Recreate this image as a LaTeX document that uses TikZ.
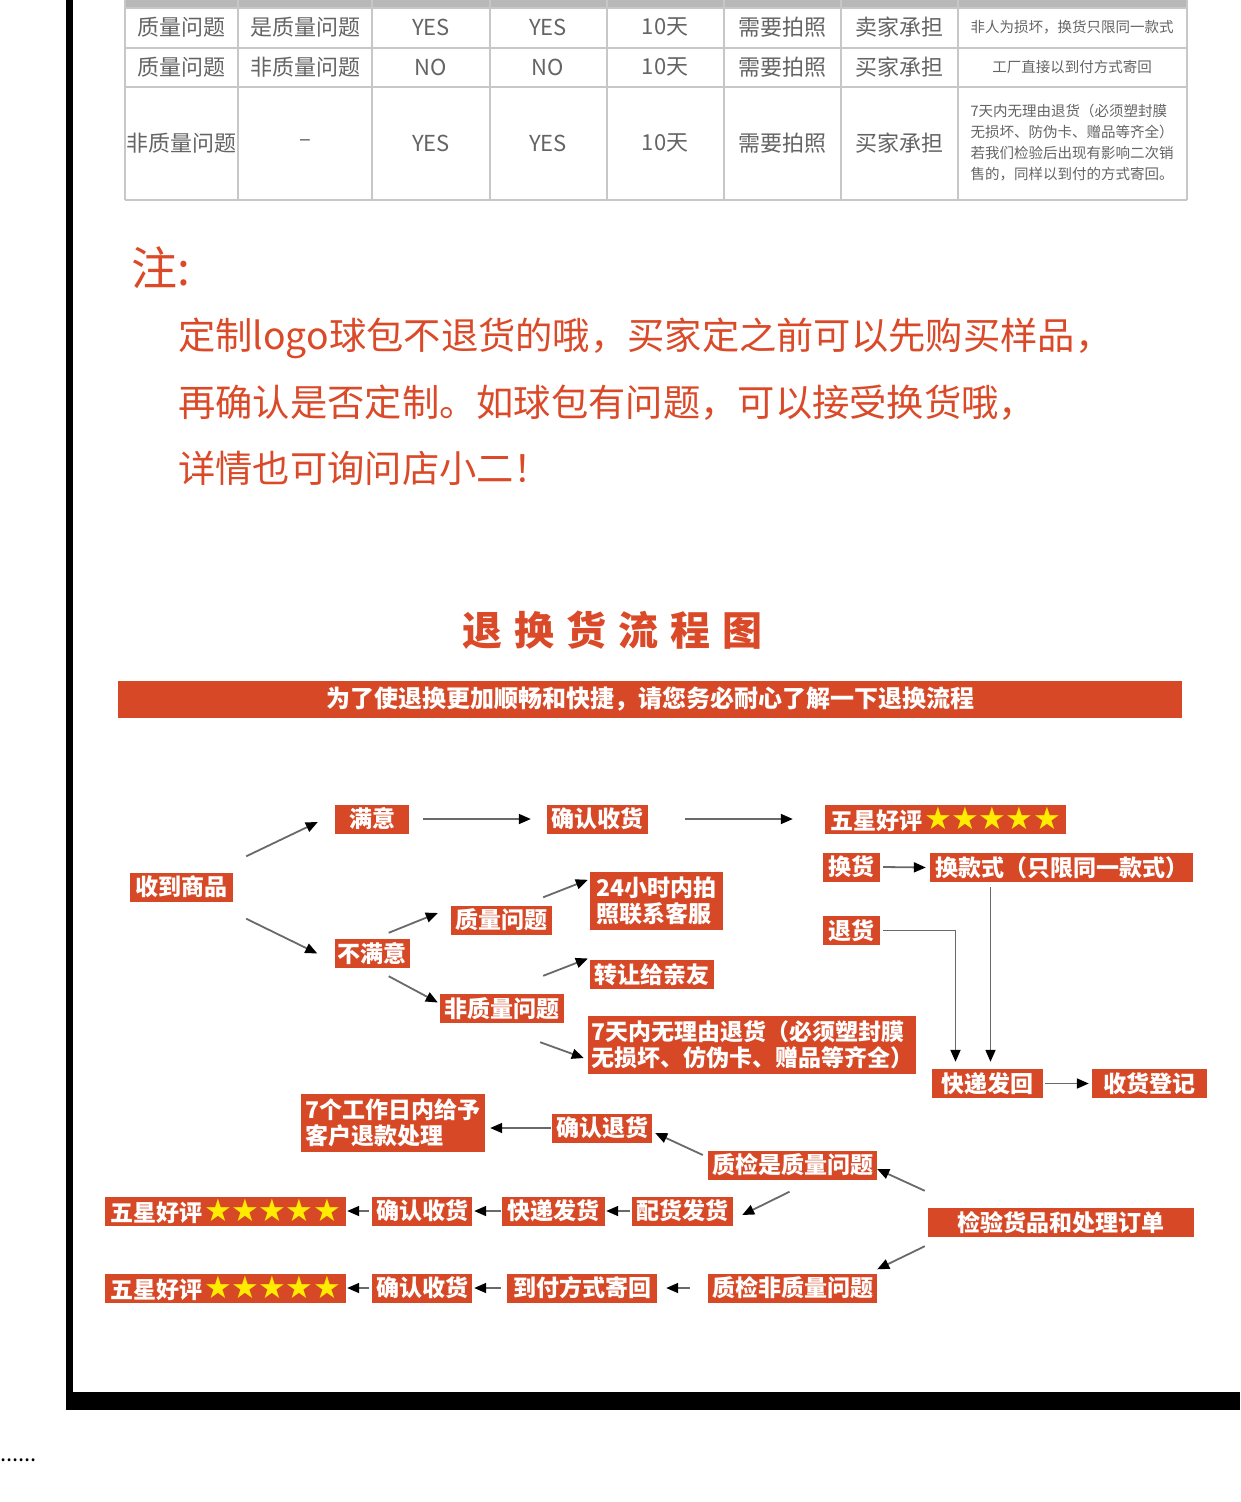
\documentclass[tikz,border=0pt]{standalone}
\usepackage{fontspec}
\setmainfont{Noto Sans CJK SC}
\newfontfamily\symfont{DejaVu Sans}
\usetikzlibrary{arrows.meta,calc}

\definecolor{boxred}{RGB}{214,72,38}
\definecolor{notered}{RGB}{219,74,40}
\definecolor{linegray}{RGB}{105,105,105}
\definecolor{tablegray}{RGB}{100,100,100}
\definecolor{staryellow}{RGB}{255,236,0}
\newcommand{\fivestars}{\hspace{2pt}{\symfont\fontsize{31}{31}\selectfont\color{staryellow}★\kern-0.5pt★\kern-0.5pt★\kern-0.5pt★\kern-0.5pt★}}

\begin{document}
\begin{tikzpicture}[x=1pt,y=-1pt,
  flowbox/.style={fill=boxred,text=white,font=\bfseries\fontsize{23}{26}\selectfont,inner xsep=3pt,inner ysep=1pt,minimum height=29pt},
  twoline/.style={flowbox,align=left,minimum height=58pt},
  arrow/.style={draw=linegray,line width=1.8pt,-{Triangle[length=12pt,width=10pt,color=black]}},
  cell/.style={text=tablegray,font=\fontsize{22}{24}\selectfont},
  smallcell/.style={text=tablegray,font=\fontsize{14.5}{21}\selectfont,align=left},
  tableline/.style={draw=black!22,line width=1.5pt},
  notetext/.style={text=notered,font=\fontsize{37.3}{40}\selectfont,anchor=west,inner sep=0pt}
]
\useasboundingbox (0,0) rectangle (1240,1502);
\fill[white] (0,0) rectangle (1240,1502);

% frame of the page
\fill[black] (66,0) rectangle (73,1410);
\fill[black] (66,1392) rectangle (1240,1410);
\node[anchor=west,inner sep=0pt,font=\fontsize{22}{22}\selectfont] (dots) at (0,1460) {......};

% table (top rows)
\fill[black!28] (125,0) rectangle (1187,8);
\foreach \x in {125,238,372,490,607,724,841,958,1187}
  \draw[tableline] (\x,0) -- (\x,200);
\foreach \y in {8,48,87,200}
  \draw[tableline] (125,\y) -- (1187,\y);
\foreach \x/\t in {181/质量问题,305/是质量问题,431/YES,548/YES,665/10天,782/需要拍照,899/卖家承担}
  \node[cell] (ra\x) at (\x,27) {\t};
\foreach \x/\t in {181/质量问题,305/非质量问题,431/NO,548/NO,665/10天,782/需要拍照,899/买家承担}
  \node[cell] (rb\x) at (\x,67) {\t};
\foreach \x/\t in {181/非质量问题,305/–,431/YES,548/YES,665/10天,782/需要拍照,899/买家承担}
  \node[cell] (rc\x) at (\x,143) {\t};
\node[smallcell] (ranote) at (1072,27) {非人为损坏，换货只限同一款式};
\node[smallcell] (rbnote) at (1072,67) {工厂直接以到付方式寄回};
\node[smallcell] (rcnote) at (1072,143) {7天内无理由退货（必须塑封膜\\无损坏、防伪卡、赠品等齐全）\\若我们检验后出现有影响二次销\\售的，同样以到付的方式寄回。};

% note
\node[text=notered,font=\fontsize{46}{50}\selectfont,anchor=west,inner sep=0pt] (zhu) at (131,268) {注:};
\node[notetext] (note1) at (178,338) {定制logo球包不退货的哦，买家定之前可以先购买样品，};
\node[notetext] (note2) at (178,403) {再确认是否定制。如球包有问题，可以接受换货哦，};
\node[notetext] (note3) at (178,468) {详情也可询问店小二！};

% title and banner
\node[text=notered,font=\bfseries\fontsize{40}{44}\selectfont] (title) at (612,630)
  {退\hspace{12pt}换\hspace{12pt}货\hspace{12pt}流\hspace{12pt}程\hspace{12pt}图};
\node[fill=boxred,minimum width=1064pt,minimum height=37pt,inner sep=0pt,text=white,font=\bfseries\fontsize{24}{26}\selectfont] (banner) at (650,699.5)
  {为了使退换更加顺畅和快捷，请您务必耐心了解一下退换流程};

% flow: receiving the goods
\node[flowbox,minimum width=103pt] (shdsp) at (181.5,887) {收到商品};
\node[flowbox,minimum width=74pt] (manyi) at (372,819) {满意};
\node[flowbox,minimum width=101pt] (qrsh1) at (597.5,819) {确认收货};
\node[flowbox,minimum width=241pt] (wxhp1) at (945.5,819) {五星好评\fivestars};
\node[flowbox,minimum width=74pt] (bumanyi) at (372,953.5) {不满意};
\node[flowbox,minimum width=101pt] (zlwt) at (501.5,920) {质量问题};
\node[flowbox,minimum width=124pt] (fzlwt) at (502,1008.5) {非质量问题};
\node[twoline,minimum width=133pt] (kefu) at (656.5,901) {24小时内拍\\照联系客服};
\node[flowbox,minimum width=124pt] (zhuanrang) at (652,974.5) {转让给亲友};
\node[twoline,minimum width=324pt] (qitian) at (752,1045) {7天内无理由退货（必须塑封膜\\无损坏、仿伪卡、赠品等齐全）};

% flow: exchange or return
\node[flowbox,minimum width=57pt] (huanhuo) at (851.5,867) {换货};
\node[flowbox,minimum width=263pt] (hkuanshi) at (1061.5,867.5) {换款式（只限同一款式）};
\node[flowbox,minimum width=57pt] (tuihuo) at (851.5,930.5) {退货};
\node[flowbox,minimum width=111pt] (kdfh) at (987.5,1083.5) {快递发回};
\node[flowbox,minimum width=115pt] (shdj) at (1149.5,1083.5) {收货登记};

% flow: inspection
\node[flowbox,minimum width=266pt] (jianyan) at (1061,1222.5) {检验货品和处理订单};
\node[flowbox,minimum width=169pt] (zjshi) at (792.5,1165) {质检是质量问题};
\node[flowbox,minimum width=100pt] (qrth) at (602,1128) {确认退货};
\node[twoline,minimum width=184pt] (tuikuan) at (393,1122.5) {7个工作日内给予\\客户退款处理};
\node[flowbox,minimum width=101pt] (peihuo) at (682.5,1211) {配货发货};
\node[flowbox,minimum width=103pt] (kdfahuo) at (553.5,1211) {快递发货};
\node[flowbox,minimum width=100pt] (qrsh2) at (422,1211) {确认收货};
\node[flowbox,minimum width=241pt] (wxhp2) at (225.5,1211) {五星好评\fivestars};
\node[flowbox,minimum width=169pt] (zjfei) at (792.5,1288) {质检非质量问题};
\node[flowbox,minimum width=150pt] (daofu) at (582,1288) {到付方式寄回};
\node[flowbox,minimum width=100pt] (qrsh3) at (422,1288) {确认收货};
\node[flowbox,minimum width=241pt] (wxhp3) at (225.5,1288) {五星好评\fivestars};

% connectors
\draw[arrow] ($(shdsp.north east)+(13,-16)$) -- ($(manyi.west)+(-17,3)$);
\draw[arrow] ($(shdsp.south east)+(13,17)$) -- ($(bumanyi.west)+(-17,0)$);
\draw[arrow] ($(manyi.east)+(14,0)$) -- ($(qrsh1.west)+(-16,0)$);
\draw[arrow] ($(qrsh1.east)+(37,0)$) -- ($(wxhp1.west)+(-32,0)$);
\draw[arrow] ($(bumanyi.north east)+(-21,-6)$) -- ($(zlwt.west)+(-13,-7)$);
\draw[arrow] ($(bumanyi.south east)+(-21,8)$) -- ($(fzlwt.west)+(-2,-6)$);
\draw[arrow] ($(zlwt.north east)+(-9,-8)$) -- ($(kefu.north west)+(-2,8)$);
\draw[arrow] ($(fzlwt.north east)+(-21,-18)$) -- ($(zhuanrang.west)+(-2,-16)$);
\draw[arrow] ($(fzlwt.south east)+(-24,19)$) -- ($(qitian.west)+(-4,13)$);
\draw[arrow] ($(huanhuo.east)+(3,0)$) -- ($(hkuanshi.west)+(-4,0)$);
\draw[arrow] ($(tuihuo.east)+(3,0)$) -| ($(kdfh.north)+(-32,-7)$);
\draw[arrow] ($(hkuanshi.south -| kdfh.north)+(3,5)$) -- ($(kdfh.north)+(3,-7)$);
\draw[arrow] ($(kdfh.east)+(2,0)$) -- ($(shdj.west)+(-3,0)$);
\draw[arrow] ($(jianyan.north west)+(-3,-17)$) -- ($(zjshi.east)+(0,4)$);
\draw[arrow] ($(jianyan.south west)+(-3,9)$) -- ($(zjfei.north east)+(0,-4)$);
\draw[arrow] ($(zjshi.west)+(-5,-10)$) -- ($(qrth.east)+(3,5)$);
\draw[arrow] ($(zjshi.south)+(-3,12)$) -- ($(peihuo.east)+(9,4)$);
\draw[arrow] ($(qrth.west)+(-1,0)$) -- ($(tuikuan.east)+(5,5.5)$);
\draw[arrow] ($(peihuo.west)+(-2,0)$) -- ($(kdfahuo.east)+(1,0)$);
\draw[arrow] ($(kdfahuo.west)+(-1,0)$) -- ($(qrsh2.east)+(2,0)$);
\draw[arrow] ($(qrsh2.west)+(-3,0)$) -- ($(wxhp2.east)+(1,0)$);
\draw[arrow] ($(zjfei.west)+(-18,0)$) -- ($(daofu.east)+(9,0)$);
\draw[arrow] ($(daofu.west)+(-6,0)$) -- ($(qrsh3.east)+(2,0)$);
\draw[arrow] ($(qrsh3.west)+(-3,0)$) -- ($(wxhp3.east)+(1,0)$);
\end{tikzpicture}
\end{document}
